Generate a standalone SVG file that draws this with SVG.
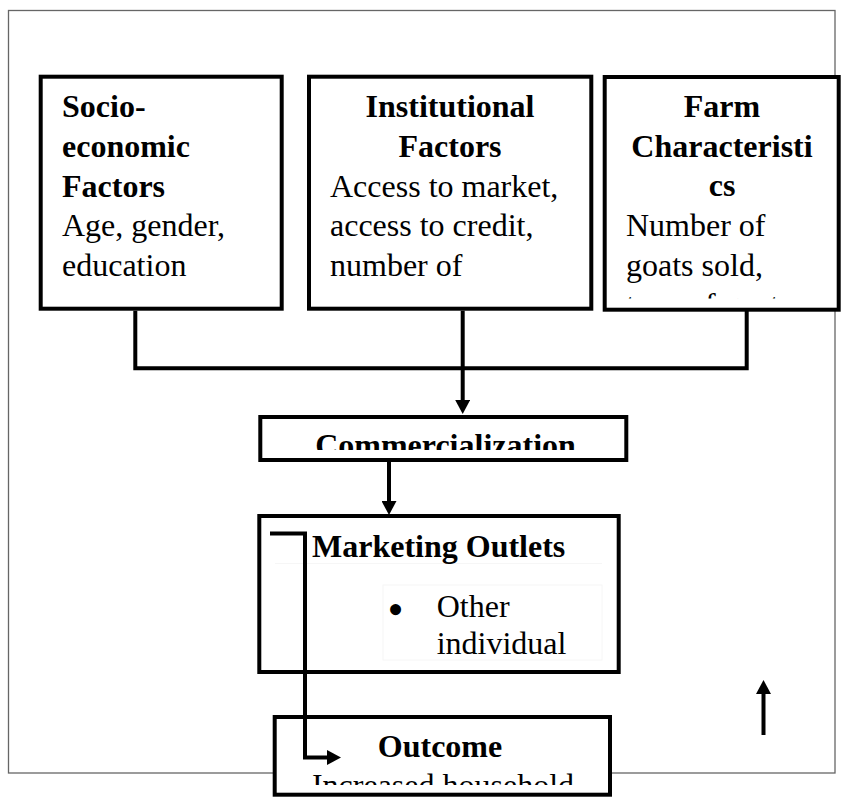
<svg xmlns="http://www.w3.org/2000/svg" width="841" height="798" viewBox="0 0 841 798">
  <style>
    .box { fill: #ffffff; stroke: #000000; stroke-width: 4; }
    .t { font-family: "Liberation Serif", "Times New Roman", serif; font-size: 32px; fill: #000000; }
    .b { font-weight: bold; }
    .c { text-anchor: middle; }
    .conn { fill: none; stroke: #000000; stroke-width: 4; }
    .faint { fill: none; stroke: #f6f6f6; stroke-width: 1; }
  </style>
  <defs>
    <marker id="ah" viewBox="0 0 14 15" refX="4" refY="7.5" markerWidth="14" markerHeight="15" orient="auto" markerUnits="userSpaceOnUse">
      <path d="M0,0 L14,7.5 L0,15 Z" fill="#000000"/>
    </marker>
    <clipPath id="clipFarm"><rect x="607" y="79" width="230" height="219.5"/></clipPath>
    <clipPath id="clipComm"><rect x="262" y="419" width="362" height="31"/></clipPath>
    <clipPath id="clipOut"><rect x="277" y="719" width="331" height="66"/></clipPath>
  </defs>

  <rect id="frame" x="8.5" y="10.5" width="826.5" height="762.5" fill="none" stroke="#666666" stroke-width="1.3"/>

  <g id="socio">
    <rect class="box" x="40.7" y="76.7" width="241" height="232"/>
    <text class="t b" x="62" y="117">Socio-</text>
    <text class="t b" x="62" y="157">economic</text>
    <text class="t b" x="62" y="196.5">Factors</text>
    <text class="t" x="62" y="236">Age, gender,</text>
    <text class="t" x="62" y="276">education</text>
  </g>

  <g id="institutional">
    <rect class="box" x="309" y="76.7" width="282.3" height="232"/>
    <text class="t b c" x="450" y="117">Institutional</text>
    <text class="t b c" x="450" y="157">Factors</text>
    <text class="t" x="330" y="196.5">Access to market,</text>
    <text class="t" x="330" y="236">access to credit,</text>
    <text class="t" x="330" y="276">number of</text>
  </g>

  <g id="farm">
    <rect class="box" x="604.7" y="77" width="234" height="232.7"/>
    <text class="t b c" x="722" y="117">Farm</text>
    <text class="t b c" x="722" y="157">Characteristi</text>
    <text class="t b c" x="722" y="196">cs</text>
    <text class="t" x="626" y="236">Number of</text>
    <text class="t" x="626" y="276">goats sold,</text>
    <text class="t" x="626" y="315" clip-path="url(#clipFarm)">type of goats</text>
  </g>

  <g id="commercialization">
    <rect class="box" x="260.3" y="417" width="366" height="43"/>
    <text class="t b c" x="445.5" y="456" clip-path="url(#clipComm)">Commercialization</text>
  </g>

  <g id="marketing">
    <rect class="box" x="259.3" y="516" width="359.4" height="156"/>
    <line class="faint" x1="275" y1="563.5" x2="602" y2="563.5"/>
    <rect class="faint" x="383" y="585" width="219" height="75"/>
    <text class="t b" x="312" y="556.7">Marketing Outlets</text>
    <text class="t" x="387.5" y="625" style="font-size:46px">•</text>
    <text class="t" x="436.7" y="617">Other</text>
    <text class="t" x="436.7" y="654">individual</text>
  </g>

  <g id="outcome">
    <rect class="box" x="274.7" y="717" width="335.3" height="77.7"/>
    <text class="t b c" x="440" y="757">Outcome</text>
    <text class="t c" x="443" y="796" clip-path="url(#clipOut)">Increased household</text>
  </g>

  <g id="connectors">
    <path class="conn" d="M135.3,310.7 V368.3 H746.7 V310.7"/>
    <path class="conn" d="M462.7,310.7 V404" marker-end="url(#ah)"/>
    <path class="conn" d="M389,462 V505" marker-end="url(#ah)"/>
    <path class="conn" d="M270,533.5 H305 V757.5 H331" marker-end="url(#ah)"/>
    <path class="conn" d="M763.5,735 V690" marker-end="url(#ah)"/>
  </g>
</svg>
